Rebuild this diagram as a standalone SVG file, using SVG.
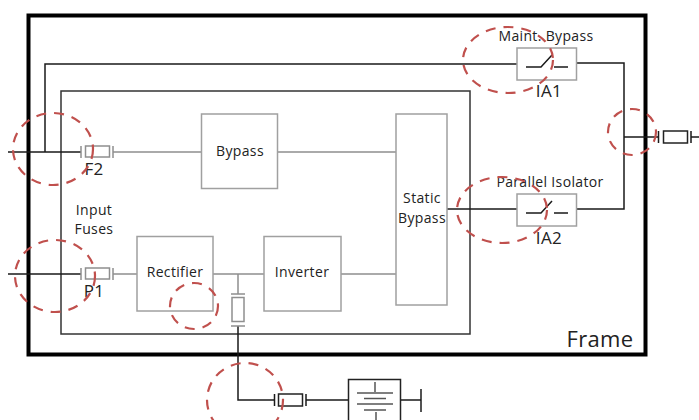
<svg xmlns="http://www.w3.org/2000/svg" width="699" height="420" viewBox="0 0 699 420">
<defs>
<style>
.blk{fill:none;stroke:#1a1a1a;stroke-width:1.5}
.gry{fill:none;stroke:#8f8f8f;stroke-width:1.5}
.box{fill:#fff;stroke:#a0a0a0;stroke-width:1.5}
.fuse{fill:#fff;stroke:#8f8f8f;stroke-width:1.5}
.fuseb{fill:#fff;stroke:#222;stroke-width:1.5}
.dash{fill:none;stroke:#c0504d;stroke-width:2.2;stroke-dasharray:10 8}
.lbl{font-size:17px}
text{font-family:"Open Sans","Noto Sans","Liberation Sans",sans-serif;font-size:14px;letter-spacing:.35px;fill:#222;text-anchor:middle}
</style>
</defs>
<rect id="frame" x="28.5" y="15.5" width="617" height="339" fill="#fff" stroke="#000" stroke-width="4"/>
<rect id="inner-frame" x="61" y="91" width="409" height="243" fill="none" stroke="#333" stroke-width="1.5"/>
<g id="connectors">
<path class="blk" d="M8 152H81M45 152V64H517M576 63H624V209H576M517 209H447M624 137H658M691 137H699M8 274H81M238 326V400H274M306 400H348M401 400H421"/>
<path class="gry" d="M113 152H201M278 152H396M113 274H137M213 274H264M341 274H396M238 274V294"/>
</g>
<g id="F2"><path class="gry" d="M81 146V158M113 146V158"/><rect class="fuse" x="85.500" y="146" width="24" height="11"/><text class="lbl" x="94" y="175">F2</text></g>
<g id="P1"><path class="gry" d="M81 268V280M113 268V280"/><rect class="fuse" x="85.500" y="268" width="24" height="11"/><text class="lbl" x="94" y="297">P1</text></g>
<g id="input-fuses"><text x="94" y="215">Input</text><text x="94" y="234">Fuses</text></g>
<g id="bypass"><rect class="box" x="201.500" y="114" width="76" height="74.500"/><text x="240" y="156">Bypass</text></g>
<g id="rectifier"><rect class="box" x="137" y="236.500" width="76" height="74.500"/><text x="175" y="277">Rectifier</text></g>
<g id="inverter"><rect class="box" x="264" y="236.500" width="77" height="74.500"/><text x="302" y="277">Inverter</text></g>
<g id="static-bypass"><rect class="box" x="396" y="114" width="51" height="191"/><text x="422" y="203">Static</text><text x="422" y="223">Bypass</text></g>
<g id="IA1"><rect class="box" x="517" y="48" width="59.500" height="32"/><path class="blk" d="M526 67H541L552 55M554 67H568"/><text x="546" y="41">Maint. Bypass</text><text class="lbl" x="549" y="97">IA1</text></g>
<g id="IA2"><rect class="box" x="517" y="194" width="59.500" height="32"/><path class="blk" d="M526 213H541L552 201M554 213H568"/><text x="550" y="187">Parallel Isolator</text><text class="lbl" x="549" y="244">IA2</text></g>
<g id="output-fuse"><path class="blk" d="M658.500 131V143M691 131V143"/><rect class="fuseb" x="663.500" y="131" width="24" height="12"/></g>
<g id="dc-fuse"><path class="gry" d="M231 294H245M231 326H245"/><rect class="fuse" x="232" y="297.500" width="12" height="24"/></g>
<g id="battery-fuse"><path class="blk" d="M274.500 394V406M306 394V406"/><rect class="fuseb" x="278.500" y="394" width="24" height="12"/></g>
<g id="battery"><path d="M348.500 420V379.500H400.500V420" fill="#fff" stroke="#222" stroke-width="1.500"/><path d="M375 382V392M357 393H393M364 398.500H386M357 404H393M364 410H386M376 412V420" fill="none" stroke="#555" stroke-width="1.500"/><path class="blk" d="M421 389V412"/></g>
<text id="frame-label" x="600" y="347" style="font-size:22px">Frame</text>
<g id="highlights">
<ellipse class="dash" cx="53" cy="149" rx="40" ry="36"/>
<ellipse class="dash" cx="55" cy="276" rx="40" ry="36"/>
<ellipse class="dash" cx="194" cy="306" rx="24" ry="23"/>
<ellipse class="dash" cx="508" cy="60" rx="45" ry="33"/>
<ellipse class="dash" cx="502" cy="210" rx="45" ry="33"/>
<ellipse class="dash" cx="632" cy="132" rx="24" ry="23"/>
<ellipse class="dash" cx="245" cy="400" rx="38" ry="37"/>
</g>
</svg>
